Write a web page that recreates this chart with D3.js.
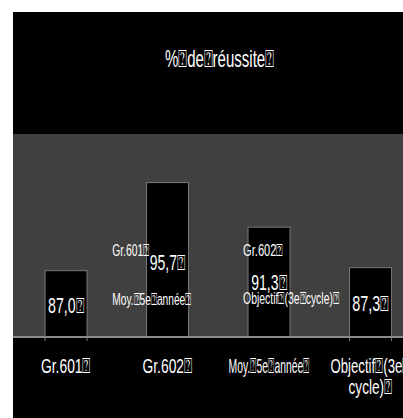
<!DOCTYPE html>
<html>
<head>
<meta charset="utf-8">
<script src="https://cdn.jsdelivr.net/npm/d3@7"></script>
<style>
  html, body { margin: 0; padding: 0; background: #fff; }
  svg text { font-family: "Liberation Sans", Arial, sans-serif; fill: #fff; }
</style>
</head>
<body>
<svg id="chart" width="403" height="418"></svg>
<script>
// Taux de réussite par groupe
const B = "\u2370";
const categories = ["Gr.601" + B, "Gr.602" + B, "Moy." + B + "5e" + B + "année" + B, "Objectif" + B + "(3e" + B + "cycle)" + B];
const values = [87.0, 95.7, 91.3, 87.3];
const valueLabels = ["87,0" + B, "95,7" + B, "91,3" + B, "87,3" + B];
const title = "%" + B + "de" + B + "réussite" + B;
// stray series-name labels drawn inside the plot
const floatLabels = [
  { text: "Gr.601" + B, band: 1, dx: -34.3, y: 256, w: 37 },
  { text: "Moy." + B + "5e" + B + "année" + B, band: 1, dx: -34.3, y: 305, w: 79 },
  { text: "Gr.602" + B, band: 2, dx: -5, y: 256, w: 40 },
  { text: "Objectif" + B + "(3e" + B + "cycle)" + B, band: 2, dx: -5, y: 304, w: 96 }
];

const svg = d3.select("#chart");
const frameLeft = 13, frameTop = 12, W = 403, H = 418;
const plotTop = 134, plotBottom = 337;

svg.append("defs").append("clipPath").attr("id", "clip")
  .append("rect").attr("x", frameLeft).attr("y", frameTop).attr("width", W - frameLeft).attr("height", H - frameTop);

const g = svg.append("g").attr("clip-path", "url(#clip)");

// condensed text: fixed rendered width, anchored at its left edge
function label(parent, str, xLeft, baseline, size, width) {
  return parent.append("text")
    .attr("x", xLeft).attr("y", baseline)
    .attr("textLength", width).attr("lengthAdjust", "spacingAndGlyphs")
    .style("font-size", size + "px")
    .text(str);
}

// chart background
g.append("rect").attr("x", frameLeft).attr("y", frameTop).attr("width", W - frameLeft + 30).attr("height", H - frameTop).attr("fill", "#000");
// plot area
g.append("rect").attr("x", frameLeft).attr("y", plotTop).attr("width", W - frameLeft + 30).attr("height", plotBottom - plotTop).attr("fill", "#404040");

const x = d3.scaleBand().domain(categories).range([15.3, 421.3]).paddingInner(0.586).paddingOuter(0.293);
const y = d3.scaleLinear().domain([80.45, 100.5]).range([plotBottom, plotTop]);
const cx = i => x(categories[i]) + x.bandwidth() / 2;

// bars
g.selectAll("rect.bar").data(values).join("rect")
  .attr("class", "bar")
  .attr("x", (d, i) => x(categories[i]))
  .attr("y", d => y(d))
  .attr("width", x.bandwidth())
  .attr("height", d => plotBottom - y(d))
  .attr("fill", "#000")
  .attr("stroke", "#7a7a7a")
  .attr("stroke-width", 1);

// axis line
g.append("line").attr("x1", frameLeft).attr("x2", W + 30).attr("y1", plotBottom).attr("y2", plotBottom)
  .attr("stroke", "#8a8a8a").attr("stroke-width", 2);

// short ticks under the outer bars
[0, 3].forEach(i => {
  [x(categories[i]), x(categories[i]) + x.bandwidth()].forEach(px => {
    g.append("line").attr("x1", px).attr("x2", px).attr("y1", plotBottom).attr("y2", plotBottom + 4)
      .attr("stroke", "#7a7a7a").attr("stroke-width", 1);
  });
});

// title
label(g, title, 165, 67, 24, 109);

// value labels, centred on their bars
const valueBase = [313, 270, 290, 311];
const valueW = [36, 35.5, 35.6, 36.6];
values.forEach((v, i) => {
  label(g, valueLabels[i], cx(i) - valueW[i] / 2, valueBase[i], 22, valueW[i]);
});

// floating labels
floatLabels.forEach(d => {
  label(g, d.text, x(categories[d.band]) + d.dx, d.y, 17, d.w);
});

// category labels
const catW = [50, 50, 81, 80];
const catBase = 373;
categories.forEach((c, i) => {
  if (i === 3) {
    label(g, "Objectif" + B + "(3e" + B, cx(i) - catW[i] / 2, catBase, 21, catW[i]);
    label(g, "cycle)" + B, cx(i) - 22, catBase + 21, 21, 44);
  } else {
    label(g, c, cx(i) - catW[i] / 2, catBase, 21, catW[i]);
  }
});
</script>
</body>
</html>
